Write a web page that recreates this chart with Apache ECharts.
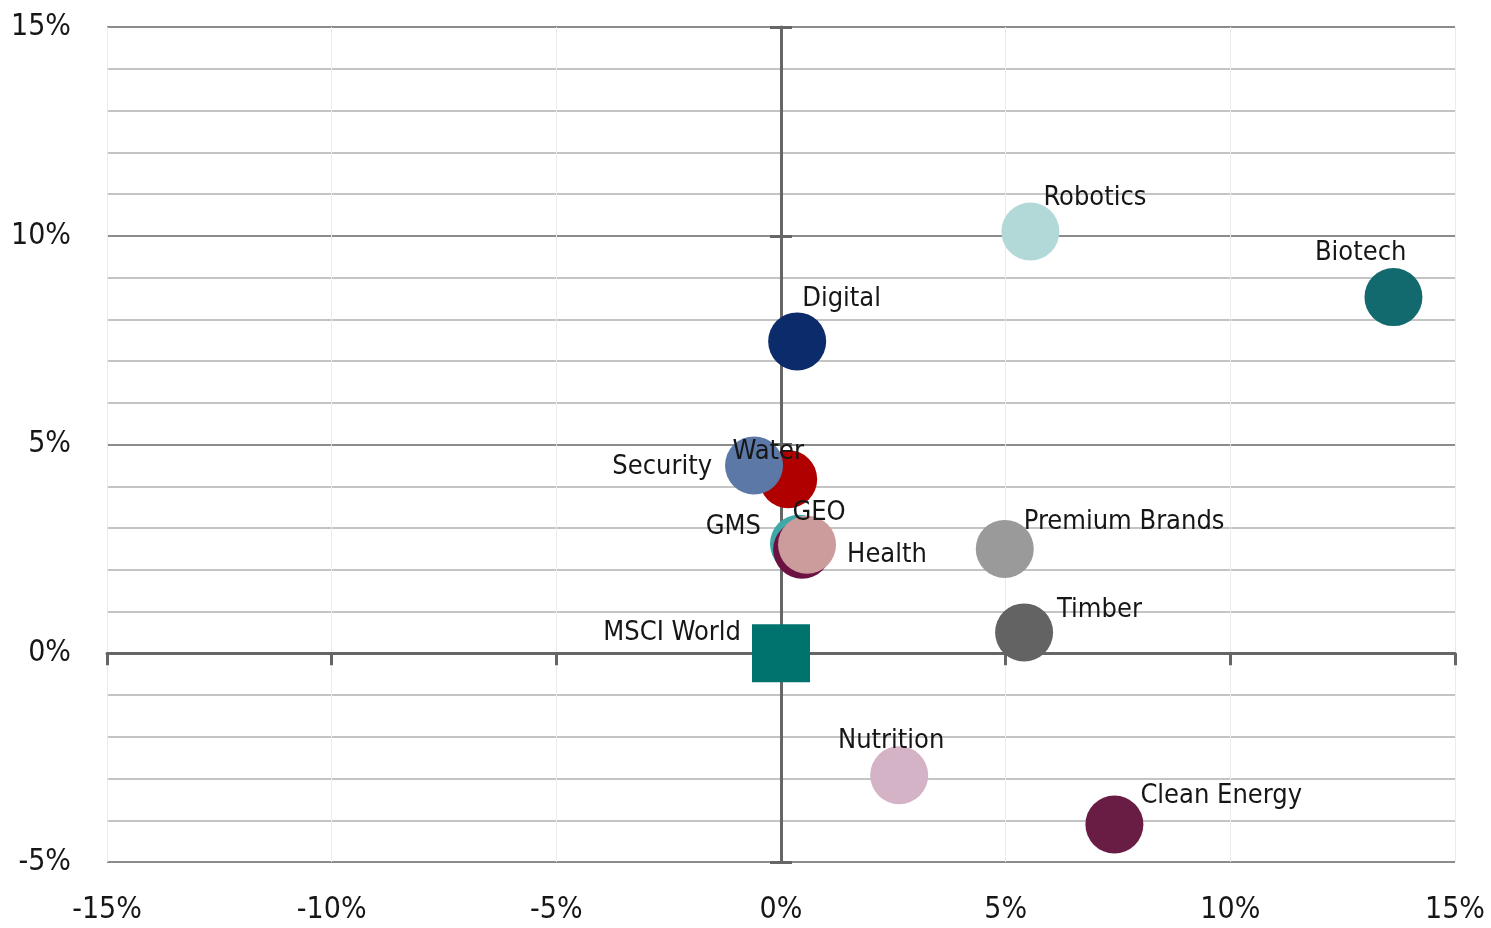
<!DOCTYPE html>
<html>
<head>
<meta charset="utf-8">
<script src="https://cdn.jsdelivr.net/npm/echarts@6/dist/echarts.min.js"></script>
<style>
  html, body { margin: 0; padding: 0; background: #fff; }
  #chart { width: 1491px; height: 928px; }
</style>
</head>
<body>
<div id="chart"></div>
<script>
// strategy return vs MSCI World (percent)
const names = ['Water', 'Security', 'Digital', 'GMS', 'Health', 'GEO', 'Robotics', 'Biotech',
  'Premium Brands', 'Timber', 'Nutrition', 'Clean Energy', 'MSCI World']
const xValues = [0.16, -0.6, 0.36, 0.40, 0.47, 0.58, 5.55, 13.63, 4.98, 5.41, 2.63, 7.42, 0]
const yValues = [4.17, 4.5, 7.47, 2.62, 2.48, 2.6, 10.1, 8.53, 2.5, 0.5, -2.92, -4.1, 0]

const xTicks = [-15, -10, -5, 0, 5, 10, 15]
const yTicks = [-5, 0, 5, 10, 15]

const colors = {
  'Water': '#b00000',
  'Security': '#5b78a7',
  'Digital': '#0c2b6b',
  'GMS': '#3fa8a8',
  'Health': '#6b1242',
  'GEO': '#cc9c9c',
  'Robotics': '#b3d8d8',
  'Biotech': '#126a6e',
  'Premium Brands': '#9a9a9a',
  'Timber': '#636363',
  'Nutrition': '#d3b3c5',
  'Clean Energy': '#6a1d44',
  'MSCI World': '#00736f',
}

// label placement relative to the marker centre
const labelPlace = {
  'Water': ['center', -20, -27],
  'Security': ['right', -42, 2],
  'Digital': ['left', 5, -42],
  'GMS': ['right', -38, -17],
  'Health': ['left', 45, 5],
  'GEO': ['center', 12, -32],
  'Robotics': ['left', 13, -34],
  'Biotech': ['right', 13, -44],
  'Premium Brands': ['left', 19, -27],
  'Timber': ['left', 33, -22],
  'Nutrition': ['center', -8, -34],
  'Clean Energy': ['left', 26, -28],
  'MSCI World': ['right', -40, -20],
}

const FONT = '"Liberation Sans Narrow", "DejaVu Sans Condensed", "Roboto Condensed", sans-serif'
const AXIS = '#666666'

const chart = echarts.init(document.getElementById('chart'))

const series = names.map((name, i) => {
  const [align, dx, dy] = labelPlace[name]
  return {
    name,
    type: 'scatter',
    xAxisIndex: 0,
    yAxisIndex: 0,
    symbol: name === 'MSCI World' ? 'rect' : 'circle',
    symbolSize: 58,
    itemStyle: { color: colors[name], opacity: 1 },
    label: {
      show: true,
      position: 'inside',
      align,
      verticalAlign: 'middle',
      offset: [dx, dy],
      formatter: name,
      color: '#161616',
      fontSize: 27,
      fontFamily: FONT,
    },
    emphasis: { disabled: true },
    data: [[xValues[i], yValues[i]]],
  }
})

chart.setOption({
  animation: false,
  backgroundColor: '#ffffff',
  grid: { left: 107, right: 36, top: 27, bottom: 66 },
  xAxis: [
    {
      type: 'value',
      position: 'bottom',
      min: xTicks[0],
      max: xTicks[xTicks.length - 1],
      interval: 5,
      axisLine: { show: false, onZero: false },
      axisTick: { show: false },
      axisLabel: {
        formatter: (v) => v + '%',
        margin: 33,
        fontSize: 30,
        color: '#161616',
        fontFamily: FONT,
      },
      splitLine: { show: true, lineStyle: { color: '#ebebeb', width: 1 } },
    },
    {
      type: 'value',
      position: 'bottom',
      min: xTicks[0],
      max: xTicks[xTicks.length - 1],
      interval: 5,
      axisLine: { show: true, onZero: true, onZeroAxisIndex: 0, lineStyle: { color: AXIS, width: 3 } },
      axisTick: { show: true, length: 12, lineStyle: { color: AXIS, width: 3 } },
      axisLabel: { show: false },
      splitLine: { show: false },
    },
  ],
  yAxis: [
    {
      type: 'value',
      position: 'left',
      min: yTicks[0],
      max: yTicks[yTicks.length - 1],
      interval: 1,
      axisLine: { show: false, onZero: false },
      axisTick: { show: false },
      axisLabel: {
        formatter: (v) => (yTicks.includes(v) ? v + '%' : ''),
        margin: 36,
        fontSize: 30,
        color: '#161616',
        fontFamily: FONT,
      },
      splitLine: {
        show: true,
        lineStyle: { color: ['#8c8c8c', '#c4c4c4', '#c4c4c4', '#c4c4c4', '#c4c4c4'], width: 2 },
      },
    },
    {
      type: 'value',
      position: 'left',
      min: yTicks[0],
      max: yTicks[yTicks.length - 1],
      interval: 5,
      axisLine: { show: true, onZero: true, onZeroAxisIndex: 0, lineStyle: { color: AXIS, width: 3 } },
      axisTick: { show: true, length: 11, lineStyle: { color: AXIS, width: 3 } },
      axisLabel: { show: false },
      splitLine: { show: false },
    },
    {
      type: 'value',
      position: 'left',
      min: yTicks[0],
      max: yTicks[yTicks.length - 1],
      interval: 5,
      axisLine: { show: false, onZero: true, onZeroAxisIndex: 0 },
      axisTick: { show: true, inside: true, length: 11, lineStyle: { color: AXIS, width: 3 } },
      axisLabel: { show: false },
      splitLine: { show: false },
    },
  ],
  series,
})
</script>
</body>
</html>
